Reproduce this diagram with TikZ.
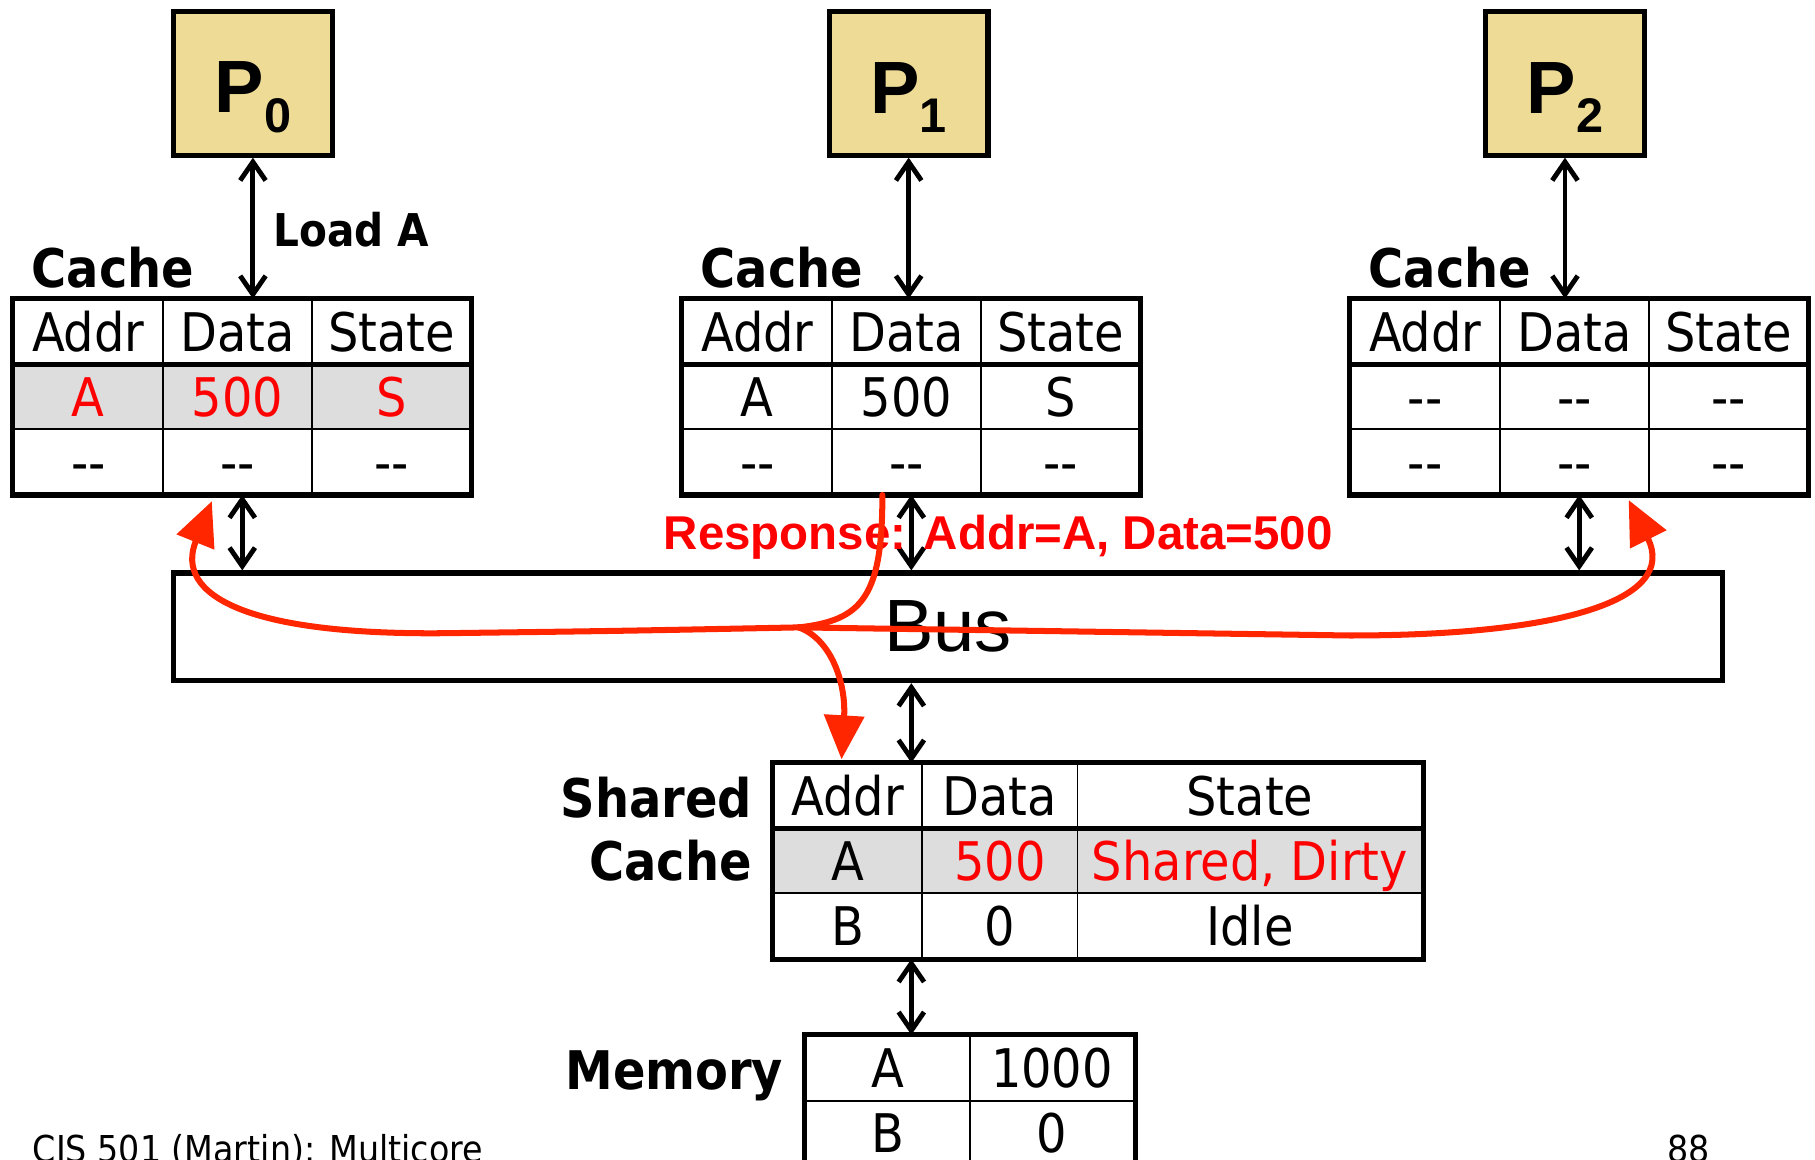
\documentclass[tikz,border=0pt]{standalone}
\usepackage{fontspec}
\setmainfont{DejaVu Sans Condensed}
\newfontfamily\arialfont{Liberation Sans}
\usetikzlibrary{matrix,arrows.meta}
\definecolor{procfill}{RGB}{238,220,150}
\definecolor{hitgray}{RGB}{221,221,221}
\definecolor{hotred}{RGB}{255,0,0}
\definecolor{respred}{RGB}{255,38,0}
\newcommand{\proclbl}[1]{\rule{0pt}{34pt}{\fontsize{32}{32}\selectfont P}\raisebox{-8.25pt}{\fontsize{21}{21}\selectfont #1}}
\newcommand{\emptycell}{\mbox{-}\mbox{-}}

\begin{document}
\begin{tikzpicture}[x=0.5pt, y=-0.5pt,
  proc/.style={draw, line width=2.2pt, fill=procfill, minimum width=68.5pt,
    minimum height=62pt, inner sep=0pt, font=\arialfont\bfseries},
  tbl/.style={matrix of nodes, inner sep=0pt, outer sep=0pt, anchor=north west,
    column sep=-0.8pt, row sep=-0.8pt,
    nodes={draw, line width=0.8pt, minimum width=64.5pt, minimum height=28pt,
      text height=16.8pt, text depth=0pt, inner sep=0pt,
      font=\fontsize{23}{23}\selectfont}},
  rim/.style={line width=2.2pt},
  tag/.style={anchor=base west, inner sep=0pt, font=\bfseries\fontsize{23}{23}\selectfont},
  note/.style={anchor=base west, inner sep=0pt},
  link/.style={line width=2.1pt, >={Straight Barb[length=8pt,width=11pt]}, <->},
  flow/.style={draw=respred, line width=2.6pt, line cap=round,
    -{Triangle[length=19pt,width=17pt]}}]
  \useasboundingbox (0,0) rectangle (1568,1002);

  \node[proc] (p0) at (218.5,72) {\proclbl{0}};
  \node[proc] (p1) at (785,72) {\proclbl{1}};
  \node[proc] (p2) at (1352,72) {\proclbl{2}};

  \matrix[tbl, row 2/.style={nodes={fill=hitgray, text=hotred}},
    column 3/.style={nodes={minimum width=68.5pt}}] (cache0) at (11,258) {
    Addr & Data & State \\
    A & 500 & S \\
    \emptycell & \emptycell & \emptycell \\
  };
  \matrix[tbl, column 3/.style={nodes={minimum width=68.5pt}}] (cache1) at (589,258) {
    Addr & Data & State \\
    A & 500 & S \\
    \emptycell & \emptycell & \emptycell \\
  };
  \matrix[tbl, column 3/.style={nodes={minimum width=68.5pt}}] (cache2) at (1166,258) {
    Addr & Data & State \\
    \emptycell & \emptycell & \emptycell \\
    \emptycell & \emptycell & \emptycell \\
  };
  \matrix[tbl, row 2/.style={nodes={fill=hitgray}},
    column 2/.style={nodes={minimum width=67pt}},
    column 3/.style={nodes={minimum width=149pt}}] (shared) at (667,659) {
    Addr & Data & State \\
    A & |[text=hotred]| 500 & |[text=hotred]| Shared, Dirty \\
    B & 0 & Idle \\
  };
  \matrix[tbl, nodes={minimum width=71pt}] (memory) at (695,894) {
    A & 1000 \\
    B & 0 \\
  };

  \draw[rim] (cache0.north west) rectangle (cache0.south east);
  \draw[rim] (cache0-1-1.south west) -- (cache0-1-3.south east);
  \draw[rim] (cache1.north west) rectangle (cache1.south east);
  \draw[rim] (cache1-1-1.south west) -- (cache1-1-3.south east);
  \draw[rim] (cache2.north west) rectangle (cache2.south east);
  \draw[rim] (cache2-1-1.south west) -- (cache2-1-3.south east);
  \draw[rim] (shared.north west) rectangle (shared.south east);
  \draw[rim] (shared-1-1.south west) -- (shared-1-3.south east);
  \draw[rim] (memory.north west) rectangle (memory.south east);

  \node[tag] (tag0) at ([shift={(8pt,5pt)}]cache0.north west) {Cache};
  \node[tag] (tag1) at ([shift={(8pt,5pt)}]cache1.north west) {Cache};
  \node[tag] (tag2) at ([shift={(8pt,5pt)}]cache2.north west) {Cache};
  \node[tag, anchor=base east] (tagsh) at ([shift={(-8.5pt,-23.5pt)}]shared.north west) {Shared};
  \node[tag, anchor=base east] (tagsc) at ([shift={(-8.5pt,-51pt)}]shared.north west) {Cache};
  \node[tag, anchor=base east] (tagmem) at ([shift={(-9pt,-23.5pt)}]memory.north west) {Memory};
  \node[note, font=\bfseries\fontsize{19.5}{19.5}\selectfont] (load)
    at ([shift={(8.75pt,-38.5pt)}]p0.south) {Load A};

  \node[draw, line width=2.2pt, minimum width=669pt, minimum height=46.5pt,
    font=\arialfont\fontsize{32}{32}\selectfont] (bus) at (819,541.5) {Bus};

  \draw[link] (p0.south) -- (p0.south |- cache0.north);
  \draw[link] (p1.south) -- (p1.south |- cache1.north);
  \draw[link] (p2.south) -- (p2.south |- cache2.north);
  \draw[link] (cache0.south) -- (cache0.south |- bus.north);
  \draw[link] (cache1.south) -- (cache1.south |- bus.north);
  \draw[link] (cache2.south) -- (cache2.south |- bus.north);
  \draw[link] (bus.south -| cache1.south) -- (shared.north -| cache1.south);
  \draw[link] (shared.south -| cache1.south) -- (memory.north -| cache1.south);

  \node[note, text=hotred, font=\arialfont\bfseries\fontsize{20.5}{20.5}\selectfont]
    (resp) at (573,475) {Response: Addr=A, Data=500};

  \coordinate (fork) at (690,542);
  \coordinate (tip0) at (183,433);
  \coordinate (tip2) at (1407,432);
  \coordinate (tipm) at (727,656);
  \draw[flow, -] ([xshift=-12.5pt]cache1.south) .. controls +(0,-44pt) and (745,536) .. (fork);
  \draw[flow] (fork) .. controls (540,545) .. (386,547) .. controls (215,549) and (150,515) .. (tip0);
  \draw[flow] (fork) -- (1166,549) .. controls (1350,549) and (1450,518) .. (tip2);
  \draw[flow] (fork) .. controls (718,552) and (731,590) .. (tipm);

  \node[note, font=\fontsize{16}{16}\selectfont] (footer) at (28,1004) {CIS 501 (Martin): Multicore};
  \node[note, font=\fontsize{16}{16}\selectfont] (page) at (1440,1004) {88};
\end{tikzpicture}
\end{document}
